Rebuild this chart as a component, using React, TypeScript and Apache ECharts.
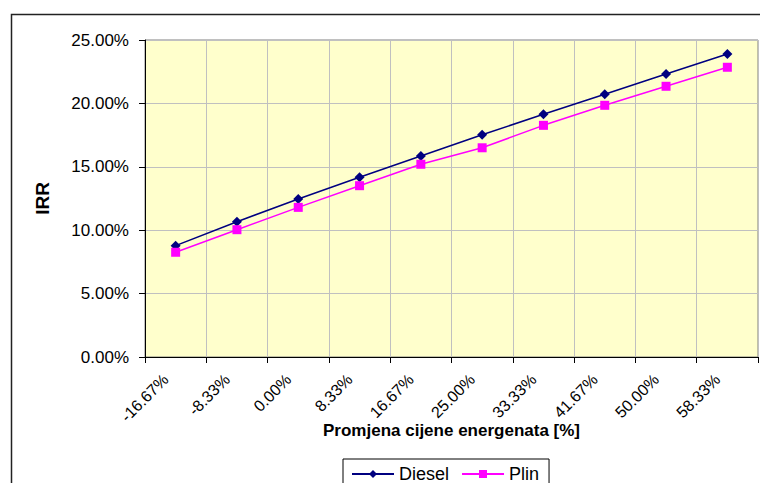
import React, { useEffect, useRef } from "react";
import * as echarts from "echarts";

const categories = ["-16.67%", "-8.33%", "0.00%", "8.33%", "16.67%", "25.00%", "33.33%", "41.67%", "50.00%", "58.33%"];
const diesel = [8.78, 10.67, 12.46, 14.17, 15.85, 17.53, 19.14, 20.72, 22.32, 23.9];
const plin = [8.26, 10.04, 11.8, 13.51, 15.2, 16.5, 18.27, 19.85, 21.35, 22.85];

const FONT = "Arial, 'Liberation Sans', sans-serif";

export default function App() {
  const ref = useRef<HTMLDivElement>(null);
  useEffect(() => {
    if (!ref.current) return;
    const chart = echarts.init(ref.current, null, { renderer: "svg" });
    chart.setOption({
      animation: false,
      backgroundColor: "#ffffff",
      textStyle: { fontFamily: FONT },
      graphic: [
        {
          type: "rect",
          shape: { x: 11.5, y: 14.5, width: 800, height: 600 },
          style: { fill: "none", stroke: "#222", lineWidth: 1.5 },
          silent: true,
          z: -1,
        },
      ],
      grid: {
        left: 145,
        top: 40,
        right: 2,
        bottom: 126,
        show: true,
        backgroundColor: "#FFFFCC",
        borderColor: "#808080",
        borderWidth: 1,
      },
      legend: {
        left: 343,
        top: 459,
        itemWidth: 42,
        itemHeight: 10,
        itemGap: 12,
        padding: [6, 10, 30, 8],
        borderColor: "#000",
        borderWidth: 1,
        textStyle: { fontSize: 18, lineHeight: 16, color: "#000", fontFamily: FONT },
        data: ["Diesel", "Plin"],
      },
      xAxis: {
        type: "category",
        data: categories,
        boundaryGap: true,
        name: "Promjena cijene energenata [%]",
        nameLocation: "middle",
        nameGap: 65,
        nameMoveOverlap: false,
        nameTextStyle: { fontSize: 17, fontWeight: "bold", color: "#000" },
        axisLine: { lineStyle: { color: "#000", width: 1 } },
        axisTick: { show: true, length: 6, lineStyle: { color: "#000" } },
        axisLabel: {
          rotate: 45,
          fontSize: 16,
          color: "#000",
          margin: 10,
          interval: 0,
          padding: [0, 14, 0, 0],
        },
        splitLine: { show: true, lineStyle: { color: "#C0C0C0", width: 1 } },
      },
      yAxis: {
        type: "value",
        min: 0,
        max: 25,
        interval: 5,
        name: "IRR",
        nameLocation: "middle",
        nameGap: 93,
        nameRotate: 90,
        nameMoveOverlap: false,
        nameTextStyle: { fontSize: 19, fontWeight: "bold", color: "#000" },
        axisLine: { show: true, lineStyle: { color: "#000", width: 1 } },
        axisTick: { show: true, length: 6, lineStyle: { color: "#000" } },
        axisLabel: {
          fontSize: 17,
          color: "#000",
          margin: 16,
          formatter: (v: number) => v.toFixed(2) + "%",
        },
        splitLine: { show: true, lineStyle: { color: "#C0C0C0", width: 1 } },
      },
      series: [
        {
          name: "Diesel",
          type: "line",
          data: diesel,
          symbol: "diamond",
          symbolSize: 10,
          lineStyle: { color: "#000080", width: 1.5 },
          itemStyle: { color: "#000080" },
        },
        {
          name: "Plin",
          type: "line",
          data: plin,
          symbol: "rect",
          symbolSize: 9,
          lineStyle: { color: "#FF00FF", width: 1.5 },
          itemStyle: { color: "#FF00FF" },
        },
      ],
    });
    return () => chart.dispose();
  }, []);
  return (
    <div
      ref={ref}
      style={{ position: "fixed", left: 0, top: 0, width: 760, height: 483 }}
    />
  );
}
